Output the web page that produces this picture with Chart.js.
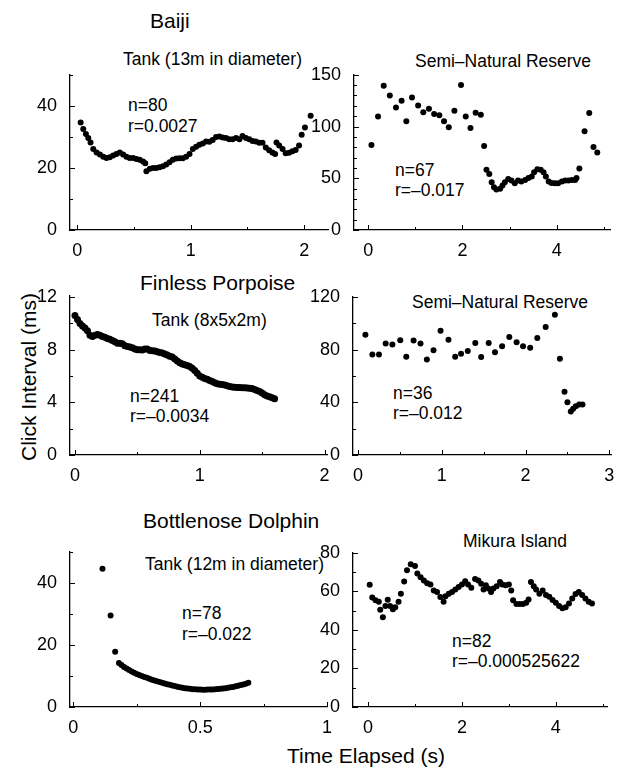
<!DOCTYPE html>
<html><head><meta charset="utf-8">
<script src="https://cdn.jsdelivr.net/npm/chart.js@4.4.0/dist/chart.umd.min.js"></script>
<style>
html,body{margin:0;padding:0;background:#fff;overflow:hidden;width:623px;height:772px;}
.t{position:absolute;font-family:'Liberation Sans',Arial,sans-serif;color:#000;line-height:1;white-space:nowrap;}
.h{font-size:21px;}
.s{font-size:17.5px;}
</style></head><body>

<div class="t h" style="left:150px;top:10px;">Baiji</div>
<div class="t s" style="left:123px;top:51px;">Tank (13m in diameter)</div>
<div class="t s" style="left:128px;top:97px;">n=80</div>
<div class="t s" style="left:128px;top:118px;">r=0.0027</div>
<div class="t s" style="left:415px;top:53px;">Semi–Natural Reserve</div>
<div class="t s" style="left:395px;top:162px;">n=67</div>
<div class="t s" style="left:395px;top:182px;">r=–0.017</div>

<div class="t h" style="left:140px;top:272px;">Finless Porpoise</div>
<div class="t s" style="left:152px;top:312px;">Tank (8x5x2m)</div>
<div class="t s" style="left:130px;top:388px;">n=241</div>
<div class="t s" style="left:130px;top:408px;">r=–0.0034</div>
<div class="t s" style="left:412px;top:294px;">Semi–Natural Reserve</div>
<div class="t s" style="left:393px;top:385px;">n=36</div>
<div class="t s" style="left:393px;top:405px;">r=–0.012</div>

<div class="t h" style="left:143px;top:510px;">Bottlenose Dolphin</div>
<div class="t s" style="left:145px;top:556px;">Tank (12m in diameter)</div>
<div class="t s" style="left:182px;top:605px;">n=78</div>
<div class="t s" style="left:182px;top:626px;">r=–0.022</div>
<div class="t s" style="left:463px;top:533px;">Mikura Island</div>
<div class="t s" style="left:452px;top:633px;">n=82</div>
<div class="t s" style="left:452px;top:653px;">r=–0.000525622</div>

<div class="t h" style="left:28px;top:377px;transform:translate(-50%,-50%) rotate(-90deg);">Click Interval (ms)</div>
<div class="t h" style="left:287px;top:745px;">Time Elapsed (s)</div>

<script>
// ---------- DATA ----------
// Baiji, tank
const baijiTankX = [0.031,0.054,0.077,0.098,0.118,0.142,0.171,0.200,0.230,0.259,0.288,0.317,0.346,0.376,0.405,0.434,0.463,0.493,0.522,0.551,0.580,0.600,
  0.610,0.640,0.668,0.697,0.726,0.756,0.785,0.814,0.843,0.873,0.902,0.931,0.960,0.990,1.019,1.048,1.077,1.107,1.136,1.165,1.194,1.224,1.253,1.282,1.311,1.340,1.370,1.400,1.430,1.457,1.487,1.516,1.545,1.574,1.604,1.633,1.662,1.691,1.720,1.744,
  1.756,1.780,1.810,1.837,1.867,1.896,1.925,1.955,1.978,2.007,2.057];
const baijiTankY = [34.6,32.5,30.9,29.6,28.2,26.1,25.0,24.3,23.6,23.2,23.4,24.0,24.5,25.0,24.3,23.6,23.2,23.2,22.9,22.6,22.1,21.5,
  18.9,19.7,20.0,20.0,20.2,20.5,21.1,21.8,22.6,23.0,23.1,23.1,23.6,24.5,26.1,26.8,27.5,27.9,28.5,28.4,29.0,30.0,30.1,29.8,29.6,29.2,29.2,29.6,29.2,30.3,29.6,29.2,28.7,28.5,28.1,28.1,26.6,25.7,25.0,24.5,
  28.2,27.2,26.1,24.7,24.9,25.4,25.8,27.2,30.7,33.0,36.8];
const baijiTankXTicks = [0,1,2];
const baijiTankYTicks = [0,20,40];

// Baiji, semi-natural reserve
const baijiReserveX = [0.07,0.21,0.33,0.46,0.59,0.71,0.81,0.93,1.06,1.17,1.29,1.40,1.51,1.61,1.71,1.83,1.97,2.07,2.17,2.28,
  2.39,2.46,2.51,2.57,2.62,2.67,2.72,2.80,2.85,2.90,2.97,3.04,3.11,3.18,3.25,3.33,3.40,3.47,3.52,3.59,
  3.66,3.72,3.77,3.83,3.89,3.96,4.03,4.11,4.18,4.25,4.32,4.39,4.42,4.48,4.59,4.69,4.78,4.86];
const baijiReserveY = [82.1,109.8,139.4,129.9,118.4,124.8,105.1,128.0,120.3,113.9,117.1,112.0,110.8,105.1,99.3,115.3,140.1,109.8,98.7,113.4,
  111.4,81.2,58.3,54.1,46.2,41.4,39.1,39.8,42.9,46.2,49.4,47.8,45.2,47.8,46.8,48.4,50.3,51.6,55.7,58.6,
  58.3,55.7,51.6,46.8,45.5,45.2,45.2,46.8,47.8,47.8,48.4,48.4,50.3,59.5,95.5,113.0,80.2,74.8];
const baijiReserveXTicks = [0,2,4];
const baijiReserveYTicks = [0,50,100,150];

// Finless porpoise, tank
const finlessTankX = [0.00,0.02,0.04,0.06,0.08,0.10,0.12,0.14,0.16,0.18,0.20,0.22,0.24,0.26,0.28,0.30,0.32,0.34,0.36,0.38,
  0.40,0.42,0.44,0.46,0.48,0.50,0.52,0.54,0.56,0.58,0.60,0.62,0.64,0.66,0.68,0.70,0.72,0.74,0.76,0.78,
  0.80,0.82,0.84,0.86,0.88,0.90,0.92,0.94,0.96,0.98,1.00,1.02,1.04,1.06,1.08,1.10,1.12,1.14,1.16,1.18,
  1.20,1.22,1.24,1.26,1.28,1.30,1.32,1.34,1.36,1.38,1.40,1.42,1.44,1.46,1.48,1.50,1.52,1.54,1.56,1.58,1.60];
const finlessTankY = [10.6,10.3,10.0,9.8,9.65,9.45,9.1,9.0,9.1,9.15,9.1,9.0,8.95,8.85,8.8,8.7,8.6,8.5,8.5,8.45,
  8.3,8.25,8.2,8.15,8.05,8.0,8.0,7.98,8.05,8.05,7.95,7.92,7.9,7.85,7.8,7.75,7.68,7.6,7.5,7.45,
  7.3,7.15,7.02,6.92,6.85,6.8,6.72,6.6,6.42,6.22,6.0,5.9,5.82,5.75,5.67,5.58,5.5,5.42,5.38,5.36,
  5.32,5.27,5.2,5.17,5.15,5.13,5.13,5.12,5.12,5.1,5.08,5.05,4.98,4.9,4.82,4.72,4.58,4.48,4.42,4.36,4.28];
const finlessTankXTicks = [0,1,2];
const finlessTankYTicks = [0,4,8,12];

// Finless porpoise, semi-natural reserve
const finlessReserveX = [0.088,0.171,0.25,0.33,0.41,0.504,0.576,0.663,0.746,0.822,0.901,0.985,1.08,1.16,1.23,1.31,1.40,1.47,1.56,1.635,
  1.72,1.806,1.893,1.97,2.055,2.14,2.24,2.35,2.41,2.465,2.50,2.54,2.568,2.60,2.64,2.68];
const finlessReserveY = [91.3,76.3,76.3,84.5,83.8,87.0,74.5,86.8,84.5,72.5,79.5,94.3,87.5,74.5,76.8,78.8,85.0,74.3,85.0,78.0,
  82.5,89.5,85.5,82.5,81.3,88.8,97.0,106.3,73.0,48.0,40.0,33.0,35.0,37.0,38.3,38.3];
const finlessReserveXTicks = [0,1,2,3];
const finlessReserveYTicks = [0,40,80,120];

// Bottlenose dolphin, tank
const dolphinTankX = [0.115,0.147,0.165,
  0.18,0.19,0.20,0.21,0.22,0.23,0.24,0.25,0.26,0.27,0.28,0.29,0.30,0.31,0.32,0.33,0.34,0.35,0.36,0.37,0.38,0.39,
  0.40,0.41,0.42,0.43,0.44,0.45,0.46,0.47,0.48,0.49,0.50,0.51,0.52,0.53,0.54,0.55,0.56,0.57,0.58,0.59,
  0.60,0.61,0.62,0.63,0.64,0.65,0.66,0.67,0.68,0.69];
const dolphinTankY = [44.5,29.5,17.8,
  14.2,13.5,12.9,12.4,11.9,11.4,11.0,10.6,10.3,10.0,9.7,9.4,9.1,8.8,8.55,8.3,8.05,7.8,7.55,7.35,7.15,6.95,
  6.75,6.55,6.4,6.2,6.05,5.95,5.85,5.75,5.68,5.62,5.6,5.58,5.58,5.6,5.62,5.66,5.72,5.8,5.88,5.98,
  6.08,6.2,6.33,6.48,6.65,6.85,7.05,7.25,7.5,7.8];
const dolphinTankXTicks = [0,0.5,1];
const dolphinTankYTicks = [0,20,40];

// Bottlenose dolphin, Mikura Island
const dolphinWildX = [0.036,0.09,0.16,0.23,0.26,0.316,0.37,0.42,0.47,0.53,0.58,0.65,0.70,0.77,0.83,0.91,1.00,1.05,1.12,1.19,
  1.26,1.33,1.40,1.47,1.54,1.61,1.65,1.72,1.79,1.86,1.93,2.00,2.07,2.13,2.20,2.28,2.35,2.41,2.46,2.51,
  2.56,2.62,2.67,2.74,2.81,2.86,2.93,3.00,3.05,3.09,3.16,3.23,3.30,3.37,3.42,3.47,3.53,3.58,3.65,3.72,
  3.79,3.86,3.93,4.00,4.07,4.14,4.21,4.28,4.35,4.42,4.49,4.56,4.63,4.70,4.77];
const dolphinWildY = [63.4,56.8,55.4,54.6,50.4,46.6,52.4,55.6,52.4,50.7,51.7,54.6,58.8,65.1,71.0,74.0,73.2,69.3,67.3,65.6,
  64.2,63.5,60.5,59.7,57.1,54.6,57.5,58.8,59.7,60.9,62.3,63.6,65.2,63.6,61.9,66.4,65.6,63.9,60.9,63.1,
  61.5,59.7,61.5,62.7,64.9,63.6,63.1,63.6,60.5,55.4,53.4,53.4,53.4,54.1,55.8,64.9,62.7,60.9,58.8,60.4,
  58.1,57.2,55.5,54.1,52.4,51.2,51.7,53.7,56.3,58.6,59.7,58.1,56.3,54.6,53.7];
const dolphinWildXTicks = [0,2,4];
const dolphinWildYTicks = [0,20,40,60,80];

// ---------- DRAWING ----------
const FONT = "'Liberation Sans', Arial, sans-serif";

function tickPlugin(xMinor, yMinor, xMajor, yMajor) {
  const isMajor = (v, arr) => arr.some(m => Math.abs(m - v) < 1e-6);
  return {
    id: 'inTicks',
    afterDraw(chart) {
      const ctx = chart.ctx, xs = chart.scales.x, ys = chart.scales.y, a = chart.chartArea;
      ctx.save();
      ctx.strokeStyle = '#000';
      ctx.lineWidth = 1;
      for (let k = Math.ceil(xs.min / xMinor - 1e-9); k * xMinor <= xs.max + 1e-9; k++) {
        const v = k * xMinor;
        const p = Math.round(xs.getPixelForValue(v)) + 0.5;
        const len = isMajor(v, xMajor) ? 5 : 3;
        ctx.beginPath(); ctx.moveTo(p, a.bottom); ctx.lineTo(p, a.bottom - len); ctx.stroke();
      }
      for (let k = Math.ceil(ys.min / yMinor - 1e-9); k * yMinor <= ys.max + 1e-9; k++) {
        const v = k * yMinor;
        const p = Math.round(ys.getPixelForValue(v)) + 0.5;
        const len = isMajor(v, yMajor) ? 5 : 3;
        ctx.beginPath(); ctx.moveTo(a.left, p); ctx.lineTo(a.left + len, p); ctx.stroke();
      }
      ctx.restore();
    }
  };
}

function makePanel(box, xr, yr, xTicks, yTicks, xMinor, yMinor, xs, ys, radius) {
  const padL = 50, padT = 14, padR = 10, padB = 30;
  const w = box.R - box.L + padL + padR, h = box.B - box.T + padT + padB;
  const cv = document.createElement('canvas');
  cv.width = w; cv.height = h;
  cv.style.position = 'absolute';
  cv.style.left = (box.L - padL) + 'px';
  cv.style.top = (box.T - padT) + 'px';
  cv.style.width = w + 'px'; cv.style.height = h + 'px';
  document.body.appendChild(cv);
  const tickFont = {family: FONT, size: 18};
  new Chart(cv, {
    type: 'scatter',
    data: {datasets: [{
      data: xs.map((x, i) => ({x: x, y: ys[i]})),
      backgroundColor: '#000', borderColor: '#000',
      pointRadius: radius, pointBorderWidth: 0, pointHoverRadius: radius
    }]},
    options: {
      responsive: false, animation: false, devicePixelRatio: 1,
      layout: {padding: {left: 0, top: padT, right: padR, bottom: 0}},
      plugins: {legend: {display: false}, tooltip: {enabled: false}},
      scales: {
        x: {
          type: 'linear', min: xr[0], max: xr[1],
          grid: {display: false},
          border: {display: true, color: '#000', width: 1.3},
          ticks: {color: '#000', font: tickFont, padding: 2, maxRotation: 0, autoSkip: false,
                  callback: v => String(v)},
          afterBuildTicks: a => { a.ticks = xTicks.map(v => ({value: v})); },
          afterFit: a => { a.height = padB; }
        },
        y: {
          type: 'linear', min: yr[0], max: yr[1],
          grid: {display: false},
          border: {display: true, color: '#000', width: 1.3},
          ticks: {color: '#000', font: tickFont, padding: 5, autoSkip: false,
                  callback: v => String(v)},
          afterBuildTicks: a => { a.ticks = yTicks.map(v => ({value: v})); },
          afterFit: a => { a.width = padL; }
        }
      }
    },
    plugins: [tickPlugin(xMinor, yMinor, xTicks, yTicks)]
  });
}

makePanel({L:70, R:328, T:73, B:230}, [-0.063, 2.21], [0, 50], baijiTankXTicks, baijiTankYTicks, 0.5, 10, baijiTankX, baijiTankY, 3);
makePanel({L:354, R:610, T:73, B:230}, [-0.30, 5.13], [0, 150], baijiReserveXTicks, baijiReserveYTicks, 1, 10, baijiReserveX, baijiReserveY, 3);
makePanel({L:70, R:327, T:294, B:455}, [-0.04, 2.02], [0, 12.1], finlessTankXTicks, finlessTankYTicks, 0.5, 2, finlessTankX, finlessTankY, 3.5);
makePanel({L:353, R:611, T:295, B:455}, [-0.06, 3.02], [0, 120], finlessReserveXTicks, finlessReserveYTicks, 0.5, 20, finlessReserveX, finlessReserveY, 3);
makePanel({L:70, R:327, T:550, B:707}, [-0.013, 1.0], [0, 50], dolphinTankXTicks, dolphinTankYTicks, 0.25, 10, dolphinTankX, dolphinTankY, 3);
makePanel({L:353, R:607, T:551, B:707}, [-0.32, 5.09], [0, 80], dolphinWildXTicks, dolphinWildYTicks, 1, 10, dolphinWildX, dolphinWildY, 3);
</script>
</body></html>
